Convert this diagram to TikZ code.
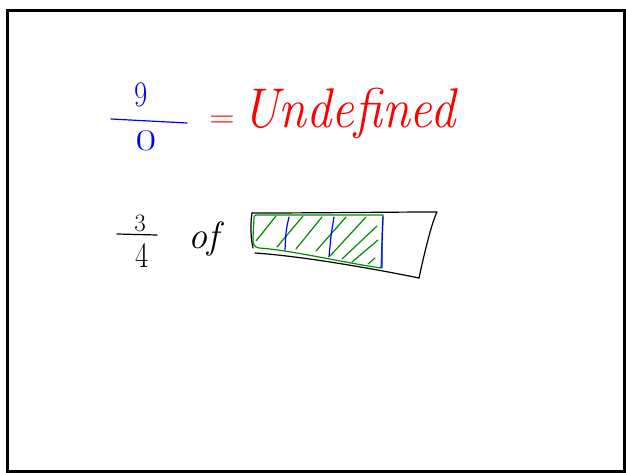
\documentclass[tikz,border=0pt]{standalone}
\usepackage{fontspec}
\begin{document}
\begin{tikzpicture}[x=1pt,y=-1pt,
  pen/.style={line width=1.2pt,line cap=round,line join=round},
  hw/.style={inner sep=0pt,anchor=center},
  blueink/.style={pen,draw=blue},
  greenink/.style={pen,draw=green!55!black},
  blackink/.style={pen,draw=black}]
\useasboundingbox (0,0) rectangle (626,473);
\fill[white] (0,0) rectangle (626,473);
\draw[line width=3pt,draw=black] (7,11) rectangle (624,471);

% 9/0 = Undefined
\node[hw,text=blue,font=\fontsize{36}{36}\selectfont,xscale=0.8] (nine) at (141,95) {9};
\draw[blueink] (111,119) -- (187,123);
\node[hw,text=blue,font=\fontsize{30}{30}\selectfont,xscale=1.5] (zero) at (146,141) {0};
\node[hw,text=red,font=\fontsize{32}{32}\selectfont,xscale=1.1] (eq) at (222,122) {=};
\node[hw,anchor=base west,text=red,font=\fontsize{56}{56}\selectfont\itshape,xscale=0.9] (undef) at (242,128) {Undefined};

% 3/4 of
\node[hw,font=\fontsize{25}{25}\selectfont] (three) at (140,223) {3};
\draw[blackink] (117,234) -- (157,235);
\node[hw,font=\fontsize{36}{36}\selectfont,xscale=0.8] (four) at (142,255) {4};
\node[hw,font=\fontsize{38}{38}\selectfont\itshape] (of) at (204,239) {of};

% outer black strip
\draw[blackink] (252,213) .. controls (320,213) and (390,212) .. (437,212)
  .. controls (432,222) and (425,250) .. (419,278);
\draw[blackink] (419,278) .. controls (370,268) and (300,256) .. (255,253);
\draw[blackink] (252,213) .. controls (250,225) and (251,240) .. (253,248);

% green region
\draw[greenink] (256,215) -- (383,215) -- (381,268)
  .. controls (340,262) and (290,250) .. (259,248)
  .. controls (253,247) and (253,243) .. (253,238) -- (254,218)
  .. controls (254,216) .. (256,215);

% hatching
\draw[greenink] (256,241) -- (276,216)
  (277,247) -- (303,216)
  (296,249) -- (322,217)
  (316,251) -- (346,217)
  (330,256) -- (366,217)
  (342,259) -- (377,226)
  (352,262) -- (378,240)
  (368,264) -- (375,258);

% blue dividers
\draw[blueink] (289,217) .. controls (286,230) .. (285,250);
\draw[blueink] (334,217) .. controls (331,235) .. (329,257);
\draw[blueink] (383,217) .. controls (382,240) .. (382,268);
\end{tikzpicture}
\end{document}
